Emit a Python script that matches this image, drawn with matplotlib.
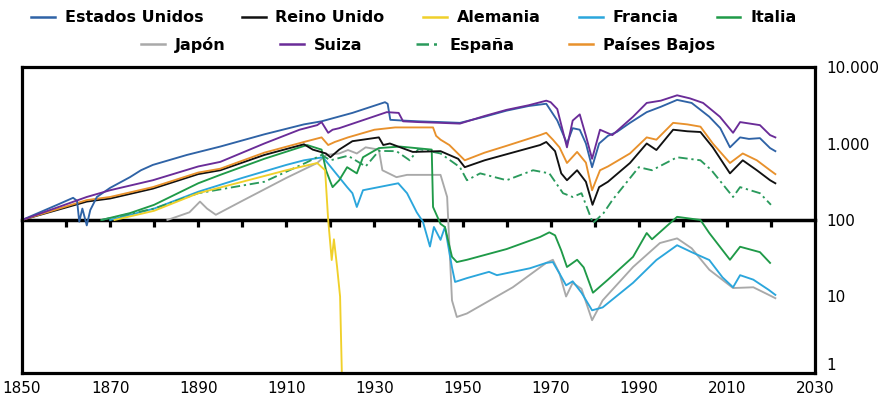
import matplotlib.pyplot as plt
from matplotlib.lines import Line2D
from matplotlib.ticker import FixedLocator, NullLocator

# Index, base 100 (log scale)
us_years = [1850, 1858, 1861.6, 1862.5, 1863, 1863.7, 1864.7, 1865.5, 1867, 1870, 1874.5, 1877,
            1879.7, 1887.4, 1895, 1905, 1914, 1918, 1925, 1932.4, 1933, 1933.6, 1936, 1940, 1945,
            1949.4, 1955, 1960, 1965, 1969, 1971.5, 1973.7, 1975, 1976.6, 1978, 1979.4, 1981, 1983,
            1985, 1988, 1991.8, 1995, 1998.7, 2002, 2006, 2008.5, 2010.7, 2013, 2015, 2017.5,
            2019.8, 2021]
us_vals = [100, 158, 195, 178, 95, 141, 85, 135, 200, 263, 363, 447, 525, 708, 912, 1318, 1778,
           1950, 2512, 3467, 3300, 2040, 2000, 1950, 1905, 1862, 2240, 2690, 3090, 3310, 2000,
           1000, 1585, 1514, 1000, 490, 1000, 1259, 1413, 1862, 2570, 3020, 3715, 3390, 2240,
           1585, 891, 1202, 1148, 1175, 871, 794]

uk_years = [1850, 1864.7, 1870, 1879.7, 1890, 1895, 1905, 1914, 1916, 1919, 1920, 1922, 1925,
            1931, 1932, 1933.5, 1938.7, 1945, 1949, 1950.5, 1955, 1960, 1967.6, 1969, 1971,
            1972.4, 1973.7, 1976, 1978, 1979.5, 1981, 1983, 1988, 1991.8, 1994, 1997.8, 2001,
            2004, 2006.8, 2010.7, 2013.6, 2016.8, 2019.8, 2021]
uk_vals = [100, 174, 191, 257, 398, 447, 708, 977, 832, 741, 661, 832, 1072, 1202, 955, 1000,
           776, 794, 631, 490, 603, 724, 955, 1047, 794, 407, 331, 447, 316, 158, 269, 316, 556,
           1000, 822, 1514, 1445, 1413, 891, 407, 603, 447, 331, 302]

de_years = [1871, 1880, 1890, 1900, 1910, 1917, 1918.8, 1919.5, 1920.3, 1920.8, 1921.5, 1922.2,
            1922.6, 1923]
de_vals = [100, 132, 224, 316, 447, 556, 447, 100, 30, 56, 25, 10, 1, 0.01]

fr_years = [1870, 1880, 1890, 1900, 1910, 1914, 1918.3, 1920, 1923.8, 1925, 1926, 1927.4,
            1935.4, 1937.4, 1939.6, 1941, 1942.6, 1943.5, 1945, 1946, 1947.6, 1948.3, 1951,
            1956, 1957.8, 1965.3, 1969, 1970.5, 1972, 1973.5, 1975, 1977, 1979.4, 1981.8,
            1988.7, 1994, 1998.7, 2002, 2006, 2009, 2011.4, 2013, 2016, 2019.5, 2021]
fr_vals = [100, 141, 234, 355, 525, 603, 661, 501, 269, 224, 148, 245, 302, 224, 126, 95, 45,
           81, 55, 81, 24, 15.5, 17.4, 21, 19, 23.4, 27.5, 28.2, 20, 14, 15.8, 11.2, 6.6, 7.2,
           15.1, 30, 46.8, 38, 30, 17.8, 13.2, 19, 16.6, 12.2, 10.5]

it_years = [1868, 1874.5, 1880, 1890, 1895, 1905, 1914.7, 1918, 1919, 1920, 1920.5, 1922,
            1923.8, 1926, 1927.4, 1931, 1935.8, 1943, 1943.3, 1945, 1946, 1947.6, 1948.7, 1951,
            1960, 1967.6, 1969.7, 1971, 1972.4, 1973.7, 1976, 1977.5, 1979.6, 1983, 1988.7,
            1991.8, 1993, 1998.7, 2004, 2006, 2010.7, 2013, 2017.5, 2019.8]
it_vals = [100, 123, 158, 302, 389, 631, 955, 832, 447, 316, 269, 331, 490, 407, 661, 871, 912,
           832, 148, 89, 81, 33, 28.2, 30.2, 41.7, 60, 69, 63, 40, 24.3, 30.2, 24, 11.2, 16.6, 33,
           67.6, 56, 110, 100, 67.6, 30.2, 44.7, 38, 27.5]

jp_years = [1883, 1888, 1890.4, 1892, 1894, 1900, 1910, 1917, 1919, 1922, 1924, 1926, 1928,
            1931, 1931.8, 1935, 1937.4, 1945, 1946.5, 1947.6, 1948.7, 1951, 1961.4, 1969,
            1970.5, 1972, 1973.5, 1975, 1977, 1979.4, 1981.8, 1988.7, 1994.8, 1998.7, 2002,
            2006, 2011.4, 2016, 2019.5, 2021]
jp_vals = [100, 126, 174, 141, 117, 178, 355, 556, 708, 741, 822, 741, 891, 832, 447, 363, 389,
           389, 200, 8.9, 5.4, 6.0, 13.2, 27.5, 30.2, 20, 10, 15.1, 12.6, 4.9, 8.9, 24.3, 50,
           57.5, 42.7, 22.4, 12.9, 13.2, 10.5, 9.5]

ch_years = [1850, 1864.7, 1870, 1879.7, 1890, 1895, 1905, 1913, 1917, 1918, 1919.5, 1920.5,
            1922, 1932.8, 1935.5, 1936.5, 1940, 1945, 1949.4, 1955, 1960, 1965, 1969, 1970,
            1971.5, 1973.7, 1975, 1976.6, 1978, 1979.4, 1981.2, 1984, 1988.7, 1991.8, 1995,
            1998.7, 2001.6, 2004.6, 2008.4, 2011.4, 2013, 2017.5, 2019.8, 2021]
ch_vals = [100, 200, 245, 331, 501, 575, 1000, 1514, 1738, 1905, 1380, 1514, 1585, 2570, 2512,
           1950, 1905, 1862, 1820, 2290, 2754, 3162, 3630, 3467, 2818, 891, 1995, 2400, 1259,
           631, 1514, 1288, 2240, 3390, 3630, 4266, 3890, 3390, 2240, 1380, 1905, 1738, 1288,
           1202]

es_years = [1868, 1880, 1890, 1900, 1905, 1914.5, 1918, 1920, 1924, 1928, 1931, 1935, 1938,
            1940, 1945, 1949.4, 1951, 1954, 1960, 1966, 1969.7, 1972.8, 1975, 1977, 1979.6,
            1982, 1984, 1990, 1993, 1998.7, 2004, 2006.5, 2011.4, 2013, 2017.5, 2020]
es_vals = [100, 141, 224, 282, 316, 562, 708, 603, 692, 501, 800, 794, 603, 850, 741, 490, 331,
           407, 331, 447, 407, 224, 200, 224, 91, 123, 182, 490, 447, 661, 603, 447, 200, 269,
           224, 158]

nl_years = [1850, 1864.7, 1870, 1879.7, 1890, 1895, 1905, 1914, 1918, 1919.5, 1921, 1924, 1930,
            1934.7, 1943.3, 1944, 1945, 1947, 1950.5, 1955, 1960, 1967.6, 1969, 1970.5, 1972,
            1973.7, 1976, 1978, 1979.4, 1981.2, 1983, 1988, 1991.8, 1994, 1997.8, 2001, 2004,
            2006.8, 2010.7, 2013.6, 2016.8, 2019.8, 2021]
nl_vals = [100, 182, 200, 269, 417, 468, 759, 1047, 1202, 955, 1047, 1202, 1514, 1622, 1622,
           1259, 1122, 955, 603, 759, 933, 1288, 1380, 1122, 891, 556, 776, 562, 245, 447, 501,
           741, 1202, 1122, 1862, 1778, 1660, 1000, 556, 741, 603, 447, 398]

names = ["Estados Unidos", "Reino Unido", "Alemania", "Francia", "Italia",
         "Japón", "Suiza", "España", "Países Bajos"]
colors = {"Estados Unidos": "#2f63a6", "Reino Unido": "#111111", "Alemania": "#f0d02a",
          "Francia": "#2ba6dc", "Italia": "#1f9a48", "Japón": "#a9a9a9", "Suiza": "#6a2c98",
          "España": "#2a9a5c", "Países Bajos": "#e8912c"}
series = {"Estados Unidos": (us_years, us_vals), "Reino Unido": (uk_years, uk_vals),
          "Alemania": (de_years, de_vals), "Francia": (fr_years, fr_vals),
          "Italia": (it_years, it_vals), "Japón": (jp_years, jp_vals),
          "Suiza": (ch_years, ch_vals), "España": (es_years, es_vals),
          "Países Bajos": (nl_years, nl_vals)}
draw_order = ["Japón", "Francia", "Italia", "España", "Alemania", "Reino Unido",
              "Países Bajos", "Estados Unidos", "Suiza"]
dashdot = (0, (5, 2, 1.2, 2))

fig = plt.figure(figsize=(8.88, 4.0), dpi=100)
ax = fig.add_axes([22 / 888, 1 - 373 / 400, 793 / 888, 306 / 400])

for name in draw_order:
    x, y = series[name]
    ls = dashdot if name == "España" else "-"
    ax.plot(x, y, color=colors[name], lw=1.35, ls=ls, solid_joinstyle="round")

ax.set_yscale("log")
ax.set_ylim(1, 10000)
ax.set_xlim(1850, 2030)

ax.yaxis.tick_right()
ax.yaxis.set_major_locator(FixedLocator([1, 10, 100, 1000, 10000]))
ax.yaxis.set_minor_locator(NullLocator())
ax.set_yticklabels(["1", "10", "100", "1.000", "10.000"])
ax.set_xticks(range(1850, 2031, 20))
ax.tick_params(axis="both", length=0, labelsize=11)
ax.tick_params(axis="y", pad=8)
ax.tick_params(axis="x", pad=6)
# "1" sits a little above the bottom label row
ax.get_yticklabels()[0].set_verticalalignment("bottom")
for sp in ax.spines.values():
    sp.set_linewidth(2.3)

# ticks on the 100 line
sec = ax.secondary_xaxis(0.5)
sec.set_xticks(range(1860, 2030, 10))
sec.tick_params(direction="in", length=5, width=2.3, labeltop=False, labelbottom=False)
sec.spines["top"].set_linewidth(2.5)

handles = {}
for name in names:
    ls = dashdot if name == "España" else "-"
    handles[name] = Line2D([], [], color=colors[name], lw=1.8, ls=ls)

leg_kw = dict(frameon=False, handlelength=1.5, handletextpad=0.6,
              prop={"weight": "bold", "size": 11.5})
fig.legend([handles[n] for n in names[:5]], names[:5], ncol=5, loc="center",
           bbox_to_anchor=(0.466, 0.955), columnspacing=2.4, **leg_kw)
fig.legend([handles[n] for n in names[5:]], names[5:], ncol=4, loc="center",
           bbox_to_anchor=(0.482, 0.888), columnspacing=3.4, **leg_kw)

fig.savefig("out.png", dpi=100)
